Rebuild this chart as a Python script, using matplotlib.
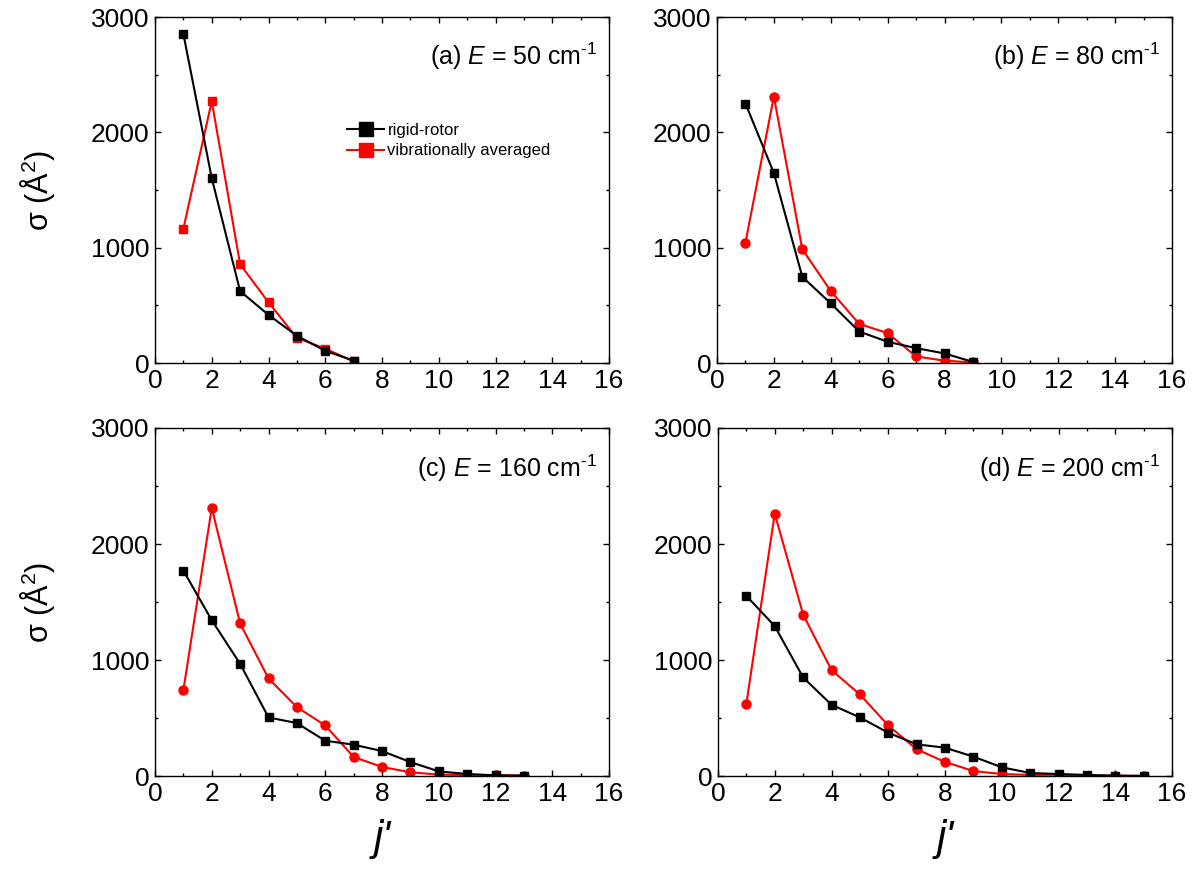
import matplotlib
matplotlib.use('Agg')
import matplotlib.pyplot as plt
from matplotlib.ticker import MultipleLocator

plt.rcParams['font.family'] = ['Liberation Sans', 'DejaVu Sans']
plt.rcParams['mathtext.fontset'] = 'custom'
plt.rcParams['mathtext.rm'] = 'Liberation Sans'
plt.rcParams['mathtext.it'] = 'Liberation Sans:italic'

# (a) E = 50 cm-1
j_a = [1, 2, 3, 4, 5, 6, 7]
rigid_a = [2853, 1603, 623, 417, 236, 106, 20]
vib_a = [1164, 2270, 856, 526, 218, 124, 14]

# (b) E = 80 cm-1
j_b = [1, 2, 3, 4, 5, 6, 7, 8, 9]
rigid_b = [2250, 1647, 747, 517, 273, 184, 129, 83, 9]
vib_b = [1043, 2310, 986, 624, 339, 259, 57, 20, 5]

# (c) E = 160 cm-1
j_c = [1, 2, 3, 4, 5, 6, 7, 8, 9, 10, 11, 12, 13]
rigid_c = [1771, 1343, 967, 505, 456, 304, 270, 215, 120, 40, 17, 6, 3]
vib_c = [740, 2311, 1315, 841, 594, 436, 164, 78, 32, 12, 8, 8, 3]

# (d) E = 200 cm-1
j_d = [1, 2, 3, 4, 5, 6, 7, 8, 9, 10, 11, 12, 13, 14, 15]
rigid_d = [1553, 1292, 850, 614, 505, 373, 273, 244, 167, 75, 26, 17, 9, 3, 1]
vib_d = [623, 2262, 1392, 913, 703, 436, 230, 121, 43, 17, 9, 11, 3, 2, 1]

energies = ['(a)', '50'], ['(b)', '80'], ['(c)', '160'], ['(d)', '200']
panels = [(j_a, rigid_a, vib_a), (j_b, rigid_b, vib_b), (j_c, rigid_c, vib_c), (j_d, rigid_d, vib_d)]

W, H = 1199, 873
fig = plt.figure(figsize=(W / 100, H / 100), dpi=100)

# axes boxes in pixels: left, top, right, bottom
boxes = [(155, 17, 609, 363), (717, 17, 1172, 363),
         (155, 428, 609, 776), (718, 428, 1172, 776)]

axs = []
for k, (l, t, r, b) in enumerate(boxes):
    ax = fig.add_axes([l / W, 1 - b / H, (r - l) / W, (b - t) / H])
    jj, rr, vv = panels[k]
    ax.plot(jj, rr, color='k', lw=1.5, marker='s', ms=6, label='rigid-rotor', zorder=3)
    if k == 0:
        ax.plot(jj, vv, color='r', lw=1.5, marker='s', ms=6, label='vibrationally averaged', zorder=2)
    else:
        ax.plot(jj, vv, color='r', lw=1.5, marker='o', ms=6.5, label='vibrationally averaged', zorder=2)
    ax.set_xlim(0, 16)
    ax.set_ylim(0, 3000)
    ax.xaxis.set_major_locator(MultipleLocator(2))
    ax.xaxis.set_minor_locator(MultipleLocator(1))
    ax.yaxis.set_major_locator(MultipleLocator(1000))
    ax.yaxis.set_minor_locator(MultipleLocator(500))
    ax.tick_params(which='both', direction='in', top=True, right=True, labelsize=19, width=1)
    ax.tick_params(which='major', length=4.5, pad=4)
    ax.tick_params(which='minor', length=2.5)
    for s in ax.spines.values():
        s.set_linewidth(1)
    tag, e = energies[k]
    ax.text(0.975, 0.885, tag + r' $E$ = ' + e + r' cm$^{\text{-1}}$', transform=ax.transAxes,
            ha='right', va='center', fontsize=18)
    if k % 2 == 0:
        ax.set_ylabel(r'$\mathregular{\sigma}$ (Å$^{\mathregular{2}}$)', fontsize=22, labelpad=24)
    if k >= 2:
        ax.set_xlabel("j'", fontsize=30, fontstyle='italic', labelpad=10)
    axs.append(ax)

leg = axs[0].legend(loc='center left', bbox_to_anchor=(0.424, 0.643), frameon=False, fontsize=12,
                    handlelength=2.2, markerscale=1.7, handletextpad=0.2, labelspacing=0.35,
                    borderpad=0.0, borderaxespad=0.0)

fig.savefig('out.png', dpi=100)
